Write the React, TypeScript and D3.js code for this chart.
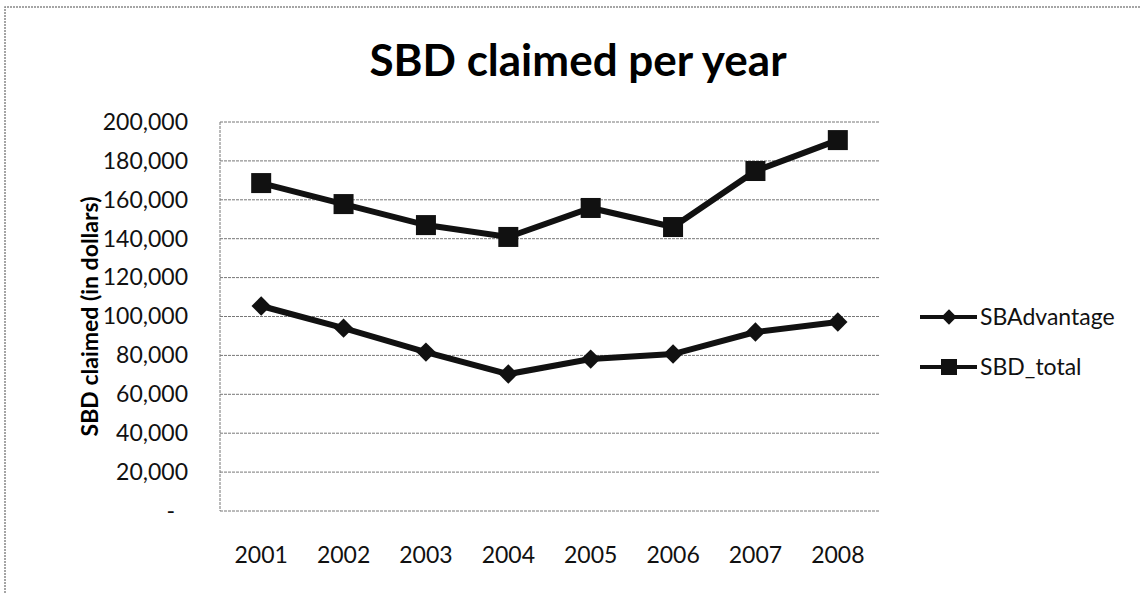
import React, { useEffect, useRef } from "react";
import * as d3 from "d3";

const years = ["2001", "2002", "2003", "2004", "2005", "2006", "2007", "2008"];
const sbAdvantage = [105400, 94000, 81700, 70400, 78100, 80700, 92000, 97200];
const sbdTotal = [168600, 157800, 147000, 140900, 155800, 146000, 174800, 190700];
const yTicks = [0, 20000, 40000, 60000, 80000, 100000, 120000, 140000, 160000, 180000, 200000];

const FONT = "Lato, 'Open Sans', sans-serif";

const App = () => {
  const svgRef = useRef<SVGSVGElement>(null);

  useEffect(() => {
    const W = 1140,
      H = 593;
    const margin = { top: 122, right: 261, bottom: 82, left: 220 };
    const width = W - margin.left - margin.right,
      height = H - margin.top - margin.bottom;

    const root = d3.select(svgRef.current);
    root.selectAll("*").remove();
    root.attr("width", W).attr("height", H);

    root.append("rect").attr("width", W).attr("height", H).attr("fill", "#fff");

    // outer chart border (top and left only visible)
    root
      .append("path")
      .attr("d", `M5,${H} L5,7 L${W},7`)
      .attr("fill", "none")
      .attr("stroke", "#888")
      .attr("stroke-width", 1.5)
      .attr("stroke-dasharray", "2,1");

    root
      .append("text")
      .attr("x", 578)
      .attr("y", 76)
      .attr("text-anchor", "middle")
      .attr("font-family", FONT)
      .attr("font-weight", "bold")
      .attr("font-size", 44)
      .text("SBD claimed per year");

    root
      .append("text")
      .attr("transform", `translate(98,${margin.top + height / 2}) rotate(-90)`)
      .attr("text-anchor", "middle")
      .attr("font-family", FONT)
      .attr("font-weight", "bold")
      .attr("font-size", 23)
      .text("SBD claimed (in dollars)");

    const svg = root.append("g").attr("transform", `translate(${margin.left},${margin.top})`);

    const x = d3.scaleBand().domain(years).range([0, width]);
    const y = d3.scaleLinear().domain([0, 200000]).range([height, 0]);

    // gridlines
    svg
      .selectAll(".grid")
      .data(yTicks)
      .enter()
      .append("line")
      .attr("x1", 0)
      .attr("x2", width)
      .attr("y1", (d) => y(d))
      .attr("y2", (d) => y(d))
      .attr("stroke", "#777")
      .attr("stroke-width", 1)
      .attr("stroke-dasharray", "3,1");

    svg
      .append("line")
      .attr("x1", 0)
      .attr("x2", 0)
      .attr("y1", 0)
      .attr("y2", height)
      .attr("stroke", "#777")
      .attr("stroke-dasharray", "3,1");

    const fmt = d3.format(",");
    const yAxis = svg
      .append("g")
      .call(
        d3
          .axisLeft(y)
          .tickValues(yTicks)
          .tickSize(0)
          .tickPadding(32)
          .tickFormat((d) => (d === 0 ? "-" : fmt(d as number)))
      );
    yAxis.select(".domain").remove();
    yAxis.selectAll("text").attr("font-family", FONT).attr("font-size", 23).attr("fill", "#111");
    yAxis
      .selectAll("text")
      .filter((d) => d === 0)
      .attr("dx", -13);

    const xAxis = svg
      .append("g")
      .attr("transform", `translate(0,${height})`)
      .call(d3.axisBottom(x).tickSize(0).tickPadding(36));
    xAxis.select(".domain").remove();
    xAxis.selectAll("text").attr("font-family", FONT).attr("font-size", 23).attr("fill", "#111");

    const line = d3
      .line<number>()
      .x((d, i) => (x(years[i]) as number) + x.bandwidth() / 2)
      .y((d) => y(d));

    const diamond = d3.symbol().type(d3.symbolDiamond2).size(240);

    const series = [
      { name: "SBAdvantage", values: sbAdvantage, marker: "diamond" },
      { name: "SBD_total", values: sbdTotal, marker: "square" },
    ];

    series.forEach((s) => {
      svg
        .append("path")
        .datum(s.values)
        .attr("d", line)
        .attr("fill", "none")
        .attr("stroke", "#111")
        .attr("stroke-width", 6);

      const pts = svg
        .selectAll(`.pt-${s.name}`)
        .data(s.values)
        .enter()
        .append("g")
        .attr("transform", (d, i) => `translate(${(x(years[i]) as number) + x.bandwidth() / 2},${y(d)})`);
      if (s.marker === "square") {
        pts.append("rect").attr("x", -10).attr("y", -10).attr("width", 20).attr("height", 20).attr("fill", "#111");
      } else {
        pts.append("path").attr("d", diamond).attr("fill", "#111");
      }
    });

    // legend
    const legend = root.append("g").attr("transform", "translate(920,317)");
    series.forEach((s, i) => {
      const g = legend.append("g").attr("transform", `translate(0,${i * 50})`);
      g.append("line").attr("x1", 0).attr("x2", 57).attr("stroke", "#111").attr("stroke-width", 4);
      if (s.marker === "square") {
        g.append("rect").attr("x", 21).attr("y", -8).attr("width", 16).attr("height", 16).attr("fill", "#111");
      } else {
        g.append("path")
          .attr("transform", "translate(29,0)")
          .attr("d", d3.symbol().type(d3.symbolDiamond2).size(150))
          .attr("fill", "#111");
      }
      g.append("text")
        .attr("x", 60)
        .attr("dy", "0.35em")
        .attr("font-family", FONT)
        .attr("font-size", 23)
        .attr("fill", "#111")
        .text(s.name);
    });
  }, []);

  return <svg ref={svgRef} style={{ position: "absolute", left: 0, top: 0 }}></svg>;
};

export default App;
